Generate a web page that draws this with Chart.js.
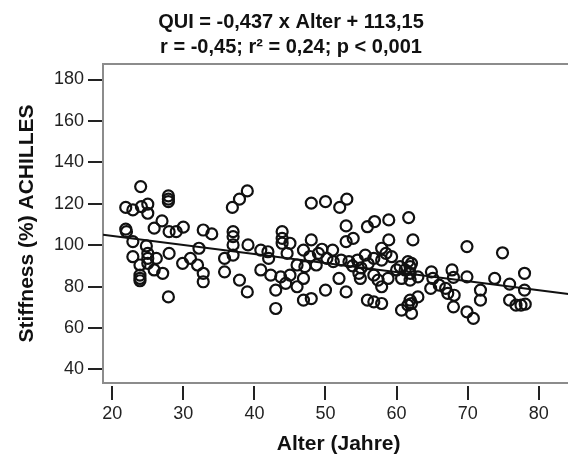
<!DOCTYPE html>
<html>
<head>
<meta charset="utf-8">
<script src="https://cdn.jsdelivr.net/npm/chart.js@4.4.1/dist/chart.umd.min.js"></script>
<style>
  html, body { margin: 0; padding: 0; background: #fff; overflow: hidden; }
  #wrap { width: 582px; height: 465px; }
</style>
</head>
<body>
<div id="wrap"><canvas id="grafico" width="582" height="465"></canvas></div>
<script>
// Werte: Alter (Jahre) und Stiffness (%)
const alter = [
  24.0, 21.9, 22.9, 24.1, 25.0, 25.0, 27.9, 27.9, 27.9, 27.0,
  25.9, 28.0, 29.0, 30.0, 21.9, 22.0, 22.9, 22.9, 24.8, 25.0,
  25.0, 25.0, 26.2, 23.9, 25.9, 27.1, 23.9, 23.9, 23.9, 28.0,
  27.9, 29.9, 31.0, 32.2, 32.0, 32.8, 32.8, 32.8, 34.0, 35.8,
  35.8, 37.0, 37.0, 37.0, 37.0, 37.9, 39.0, 36.9, 37.9, 39.0,
  39.1, 48.0, 50.0, 52.0, 53.0, 52.9, 52.9, 53.9, 55.9, 56.9,
  58.9, 61.7, 62.3, 58.9, 57.9, 40.9, 41.9, 42.0, 43.9, 43.9,
  43.9, 45.0, 46.9, 48.0, 49.0, 50.2, 51.1, 52.2, 53.3, 54.5,
  55.6, 56.8, 57.9, 59.3, 60.5, 61.6, 40.9, 42.3, 43.0, 43.0,
  43.7, 44.4, 45.0, 46.0, 46.9, 46.0, 47.1, 48.7, 46.9, 48.0,
  50.0, 51.9, 52.9, 54.7, 54.9, 55.9, 56.8, 57.9, 56.8, 57.9,
  57.4, 58.8, 60.0, 60.7, 61.2, 61.9, 62.1, 60.7, 61.6, 62.1,
  69.9, 74.9, 78.0, 73.8, 75.9, 78.0, 75.9, 76.8, 77.5, 78.1,
  69.9, 71.8, 71.8, 67.8, 68.0, 68.1, 68.0, 64.9, 65.1, 64.8,
  66.0, 66.9, 67.2, 69.9, 70.8, 61.9, 61.9, 63.0, 63.0, 61.9,
  62.1, 44.6, 49.5, 51.0, 53.8, 55.0, 56.0, 58.5, 47.8
];
const stiffness = [
  128.3, 118.2, 117.0, 118.6, 119.8, 115.4, 123.8, 122.2, 121.0, 111.7,
  108.2, 106.5, 106.5, 108.7, 107.7, 106.5, 101.7, 94.4, 99.6, 96.0,
  93.6, 91.2, 93.6, 90.4, 88.0, 86.4, 85.5, 83.9, 82.8, 96.0,
  75.0, 91.2, 93.6, 98.5, 90.4, 86.4, 82.3, 107.3, 105.4, 93.6,
  87.1, 106.5, 104.1, 100.1, 95.2, 83.1, 77.4, 118.2, 122.2, 126.2,
  100.1, 120.3, 121.0, 118.2, 122.2, 109.3, 101.7, 103.3, 108.9, 111.4,
  112.2, 113.3, 102.5, 102.5, 98.5, 97.6, 96.8, 93.6, 106.5, 103.3,
  100.9, 100.9, 97.6, 102.5, 96.0, 93.6, 92.0, 92.8, 92.0, 92.8,
  95.2, 93.6, 92.8, 94.4, 89.6, 92.0, 88.0, 85.5, 78.3, 69.4,
  84.7, 81.5, 85.5, 79.9, 83.9, 90.4, 89.6, 90.4, 73.4, 74.2,
  78.3, 83.9, 77.4, 86.4, 83.9, 73.4, 72.6, 71.8, 85.5, 79.9,
  83.1, 83.9, 88.0, 83.9, 88.0, 86.4, 91.2, 68.6, 71.0, 67.0,
  99.3, 96.3, 86.4, 83.9, 81.2, 78.3, 73.4, 71.0, 71.0, 71.5,
  84.7, 78.3, 73.4, 88.0, 84.4, 75.8, 70.2, 87.1, 83.9, 79.1,
  80.7, 79.1, 76.7, 67.8, 64.6, 89.6, 83.1, 84.7, 75.0, 73.4,
  71.8, 96.0, 98.0, 97.6, 90.0, 89.0, 91.0, 96.0, 94.5
];

// Regressionsgerade (Endpunkte am Rand des Diagramms)
const linieX = [18.7, 85];
const linieY = [105.0, 76.0];

const xTicks = [20, 30, 40, 50, 60, 70, 80];
const yTicks = [40, 60, 80, 100, 120, 140, 160, 180];

const titelZeilen = ['QUI = -0,437 x Alter + 113,15', 'r = -0,45; r\u00b2 = 0,24; p < 0,001'];

const schrift = "'Liberation Sans', Arial, Helvetica, sans-serif";

// Rahmen oben/rechts und abgesetzte Striche an der x-Achse
const rahmenPlugin = {
  id: 'rahmen',
  afterDraw(chart) {
    const ctx = chart.ctx;
    const a = chart.chartArea;
    const xs = chart.scales.x;
    ctx.save();
    ctx.strokeStyle = '#8c8c8c';
    ctx.lineWidth = 2;
    ctx.beginPath();
    ctx.moveTo(a.left - 1, a.top);
    ctx.lineTo(a.right, a.top);
    ctx.lineTo(a.right, a.bottom);
    ctx.stroke();
    ctx.strokeStyle = '#222';
    ctx.lineWidth = 2;
    xs.ticks.forEach(t => {
      const px = Math.round(xs.getPixelForValue(t.value));
      ctx.beginPath();
      ctx.moveTo(px, a.bottom + 3);
      ctx.lineTo(px, a.bottom + 17);
      ctx.stroke();
    });
    ctx.restore();
  }
};

const punkte = alter.map((a, i) => ({ x: a, y: stiffness[i] }));
const linie = linieX.map((a, i) => ({ x: a, y: linieY[i] }));

new Chart(document.getElementById('grafico'), {
  type: 'scatter',
  data: {
    datasets: [
      {
        label: 'Stiffness',
        data: punkte,
        pointStyle: 'circle',
        pointRadius: 5.5,
        pointBorderWidth: 2.2,
        pointBorderColor: '#111',
        pointBackgroundColor: 'rgba(0,0,0,0)',
        pointHoverRadius: 5.5
      },
      {
        type: 'line',
        label: 'Regression',
        data: linie,
        showLine: true,
        borderColor: '#111',
        borderWidth: 2,
        pointRadius: 0,
        fill: false
      }
    ]
  },
  options: {
    responsive: false,
    animation: false,
    layout: { padding: 0 },
    plugins: {
      legend: { display: false },
      tooltip: { enabled: false },
      title: {
        display: true,
        text: titelZeilen,
        color: '#111',
        font: { family: schrift, size: 20, weight: 'bold', lineHeight: 1.25 },
        padding: { top: 10, bottom: 4 }
      }
    },
    scales: {
      x: {
        type: 'linear',
        min: 18.7,
        max: 85,
        afterFit(scale) { scale.height = 82; },
        afterBuildTicks(scale) { scale.ticks = xTicks.map(v => ({ value: v })); },
        grid: { drawOnChartArea: false, color: 'rgba(0,0,0,0)', tickLength: 17 },
        border: { color: '#8c8c8c', width: 2 },
        ticks: { color: '#222', padding: 3, font: { family: schrift, size: 18 } },
        title: {
          display: true,
          text: 'Alter (Jahre)',
          color: '#111',
          font: { family: schrift, size: 21, weight: 'bold' },
          padding: { top: 0, bottom: 8 }
        }
      },
      y: {
        type: 'linear',
        min: 33.4,
        max: 187.5,
        afterFit(scale) { scale.width = 103; },
        afterBuildTicks(scale) { scale.ticks = yTicks.map(v => ({ value: v })); },
        grid: { drawOnChartArea: false, color: '#222', lineWidth: 2, tickLength: 15 },
        border: { color: '#8c8c8c', width: 2 },
        ticks: { color: '#222', padding: 4, font: { family: schrift, size: 18 } },
        title: {
          display: true,
          text: 'Stiffness (%) ACHILLES',
          color: '#111',
          font: { family: schrift, size: 21, weight: 'bold' },
          padding: { top: 15, bottom: 0 }
        }
      }
    }
  },
  plugins: [rahmenPlugin]
});
</script>
</body>
</html>
